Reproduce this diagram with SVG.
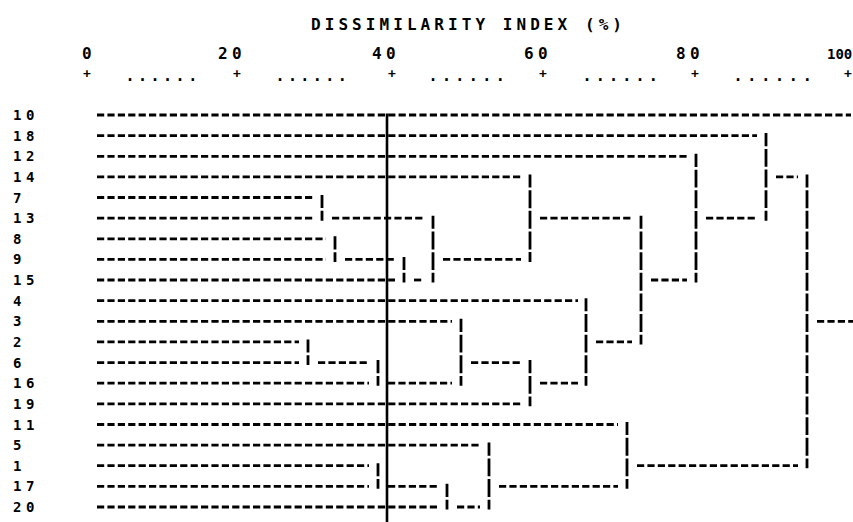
<svg xmlns="http://www.w3.org/2000/svg" width="853" height="522" viewBox="0 0 853 522">
<style>
text{font-family:"DejaVu Sans Mono","Liberation Mono",monospace;font-weight:bold;fill:#000}
.title{font-size:16px}
.num{font-size:16px;letter-spacing:4.4px}
.num100{font-size:14px;letter-spacing:0}
.tick{font-size:13px;text-anchor:middle}
.dots{font-size:15px}
.lbl{font-size:14px;letter-spacing:4.6px}
.h{stroke:#000;stroke-width:2.8;stroke-dasharray:7.2 3.2;fill:none}
.v{stroke:#000;stroke-width:2.8;stroke-dasharray:17.9 2.73;stroke-dashoffset:4.8;fill:none}
.cut{stroke:#000;stroke-width:2.6;fill:none}
</style>
<rect width="853" height="522" fill="#fff"/>
<g id="axis">
<text class="title" x="311" y="29.5" textLength="311" lengthAdjust="spacing">DISSIMILARITY INDEX (%)</text>
<text class="num" x="82" y="59">0</text>
<text class="num" x="218" y="59">20</text>
<text class="num" x="372" y="59">40</text>
<text class="num" x="524" y="59">60</text>
<text class="num" x="676" y="59">80</text>
<text class="num100" x="827" y="59">100</text>
<text class="tick" x="87" y="77.5">+</text>
<text class="tick" x="237" y="77.5">+</text>
<text class="tick" x="392" y="77.5">+</text>
<text class="tick" x="543" y="77.5">+</text>
<text class="tick" x="695" y="77.5">+</text>
<text class="tick" x="848" y="77.5">+</text>
<text class="dots" x="125.5" y="80.5" style="letter-spacing:3.5px">......</text>
<text class="dots" x="275.5" y="80.5" style="letter-spacing:3.4px">......</text>
<text class="dots" x="428.5" y="80.5" style="letter-spacing:4.4px">......</text>
<text class="dots" x="582.5" y="80.5" style="letter-spacing:4.2px">......</text>
<text class="dots" x="733.5" y="80.5" style="letter-spacing:4.8px">......</text>
</g>
<g id="leaf-10"><text class="lbl" x="13" y="120">10</text></g>
<g id="leaf-18"><text class="lbl" x="13" y="140.6">18</text></g>
<g id="leaf-12"><text class="lbl" x="13" y="161.3">12</text></g>
<g id="leaf-14"><text class="lbl" x="13" y="181.9">14</text></g>
<g id="leaf-7"><text class="lbl" x="13" y="202.5">7</text></g>
<g id="leaf-13"><text class="lbl" x="13" y="223.2">13</text></g>
<g id="leaf-8"><text class="lbl" x="13" y="243.8">8</text></g>
<g id="leaf-9"><text class="lbl" x="13" y="264.4">9</text></g>
<g id="leaf-15"><text class="lbl" x="13" y="285">15</text></g>
<g id="leaf-4"><text class="lbl" x="13" y="305.7">4</text></g>
<g id="leaf-3"><text class="lbl" x="13" y="326.3">3</text></g>
<g id="leaf-2"><text class="lbl" x="13" y="346.9">2</text></g>
<g id="leaf-6"><text class="lbl" x="13" y="367.6">6</text></g>
<g id="leaf-16"><text class="lbl" x="13" y="388.2">16</text></g>
<g id="leaf-19"><text class="lbl" x="13" y="408.8">19</text></g>
<g id="leaf-11"><text class="lbl" x="13" y="429.5">11</text></g>
<g id="leaf-5"><text class="lbl" x="13" y="450.1">5</text></g>
<g id="leaf-1"><text class="lbl" x="13" y="470.7">1</text></g>
<g id="leaf-17"><text class="lbl" x="13" y="491.3">17</text></g>
<g id="leaf-20"><text class="lbl" x="13" y="512">20</text></g>
<g id="connectors">
<line class="h" x1="97" y1="115" x2="851" y2="115"/>
<line class="h" x1="97" y1="135.6" x2="757" y2="135.6"/>
<line class="h" x1="97" y1="156.3" x2="687" y2="156.3"/>
<line class="h" x1="97" y1="176.9" x2="521" y2="176.9"/>
<line class="h" x1="97" y1="197.5" x2="313" y2="197.5"/>
<line class="h" x1="97" y1="218.2" x2="313" y2="218.2"/>
<line class="h" x1="97" y1="238.8" x2="326" y2="238.8"/>
<line class="h" x1="97" y1="259.4" x2="326" y2="259.4"/>
<line class="h" x1="97" y1="280" x2="395" y2="280"/>
<line class="h" x1="97" y1="300.7" x2="578" y2="300.7"/>
<line class="h" x1="97" y1="321.3" x2="452" y2="321.3"/>
<line class="h" x1="97" y1="341.9" x2="299" y2="341.9"/>
<line class="h" x1="97" y1="362.6" x2="299" y2="362.6"/>
<line class="h" x1="97" y1="383.2" x2="369" y2="383.2"/>
<line class="h" x1="97" y1="403.8" x2="521" y2="403.8"/>
<line class="h" x1="97" y1="424.5" x2="618" y2="424.5"/>
<line class="h" x1="97" y1="445.1" x2="480" y2="445.1"/>
<line class="h" x1="97" y1="465.7" x2="369" y2="465.7"/>
<line class="h" x1="97" y1="486.3" x2="369" y2="486.3"/>
<line class="h" x1="97" y1="507" x2="438" y2="507"/>
<line class="h" x1="332" y1="218.2" x2="424" y2="218.2"/>
<line class="h" x1="345" y1="259.4" x2="395" y2="259.4"/>
<line class="h" x1="414" y1="280" x2="424" y2="280"/>
<line class="h" x1="443" y1="259.4" x2="521" y2="259.4"/>
<line class="h" x1="540" y1="218.2" x2="632" y2="218.2"/>
<line class="h" x1="318" y1="362.6" x2="369" y2="362.6"/>
<line class="h" x1="388" y1="383.2" x2="452" y2="383.2"/>
<line class="h" x1="471" y1="362.6" x2="521" y2="362.6"/>
<line class="h" x1="540" y1="383.2" x2="578" y2="383.2"/>
<line class="h" x1="596" y1="341.9" x2="632" y2="341.9"/>
<line class="h" x1="651" y1="280" x2="687" y2="280"/>
<line class="h" x1="706" y1="218.2" x2="757" y2="218.2"/>
<line class="h" x1="776" y1="176.9" x2="798" y2="176.9"/>
<line class="h" x1="388" y1="486.3" x2="438" y2="486.3"/>
<line class="h" x1="457" y1="507" x2="480" y2="507"/>
<line class="h" x1="499" y1="486.3" x2="618" y2="486.3"/>
<line class="h" x1="637" y1="465.7" x2="798" y2="465.7"/>
<line class="h" x1="817" y1="321.3" x2="853" y2="321.3"/>
<line class="v" x1="322" y1="195" x2="322" y2="220.7"/>
<line class="v" x1="335" y1="236.3" x2="335" y2="261.9"/>
<line class="v" x1="404" y1="256.9" x2="404" y2="282.5"/>
<line class="v" x1="433" y1="215.7" x2="433" y2="282.5"/>
<line class="v" x1="530" y1="174.4" x2="530" y2="261.9"/>
<line class="v" x1="308" y1="339.4" x2="308" y2="365.1"/>
<line class="v" x1="378" y1="360.1" x2="378" y2="385.7"/>
<line class="v" x1="461" y1="318.8" x2="461" y2="385.7"/>
<line class="v" x1="530" y1="360.1" x2="530" y2="406.3"/>
<line class="v" x1="586" y1="298.2" x2="586" y2="385.7"/>
<line class="v" x1="641" y1="215.7" x2="641" y2="344.4"/>
<line class="v" x1="696" y1="153.8" x2="696" y2="282.5"/>
<line class="v" x1="766" y1="133.1" x2="766" y2="220.7"/>
<line class="v" x1="378" y1="463.2" x2="378" y2="488.8"/>
<line class="v" x1="447" y1="483.8" x2="447" y2="509.5"/>
<line class="v" x1="489" y1="442.6" x2="489" y2="509.5"/>
<line class="v" x1="627" y1="422" x2="627" y2="488.8"/>
<line class="v" x1="807" y1="174.4" x2="807" y2="468.2"/>
<line class="cut" x1="387" y1="113.5" x2="387" y2="522"/>
</g>
</svg>
